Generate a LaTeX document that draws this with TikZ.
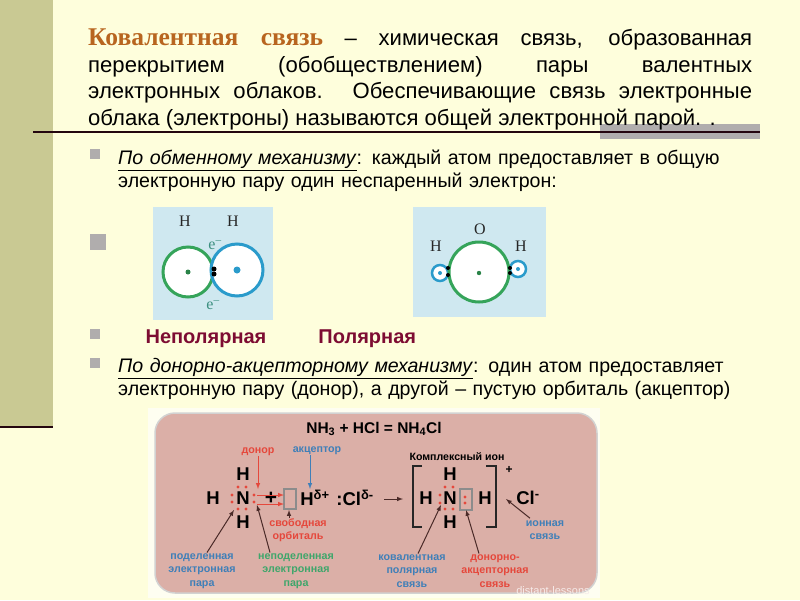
\documentclass[tikz,border=0pt]{standalone}
\usepackage{fontspec}
\setmainfont{Liberation Sans}
\newfontfamily\headfont{Liberation Serif}
\usetikzlibrary{positioning}

\definecolor{pagebg}{HTML}{FEFEDC}
\definecolor{bandcol}{HTML}{C9C993}
\definecolor{rulecol}{HTML}{24060F}
\definecolor{bulletcol}{HTML}{B0ADAD}
\definecolor{headcol}{HTML}{B8651F}
\definecolor{wine}{HTML}{7D0C32}
\definecolor{panelcol}{HTML}{CFE8F0}
\definecolor{greencirc}{HTML}{35A45A}
\definecolor{bluecirc}{HTML}{2A9BCB}
\definecolor{teal}{HTML}{3C8F80}
\definecolor{boxcol}{HTML}{DBAFA7}
\definecolor{lblred}{HTML}{E5483C}
\definecolor{lblblue}{HTML}{3F7FB8}
\definecolor{lblgreen}{HTML}{3FA66B}
\definecolor{arrowcol}{HTML}{4A2A28}

\tikzset{
  body/.style={anchor=north west, inner sep=0pt, text width=660pt, align=left,
    font=\fontsize{19.6}{23.4}\selectfont},
  bullet/.style={fill=bulletcol, draw=none, minimum size=#1, inner sep=0pt},
  kind/.style={font=\fontsize{20}{22}\selectfont\bfseries, text=wine},
  atomname/.style={font=\headfont\fontsize{16}{18}\selectfont, text=black!85},
  electron/.style={font=\headfont\fontsize{16}{18}\selectfont, text=teal},
  atom/.style={font=\fontsize{18.5}{20}\selectfont\bfseries, inner sep=0pt},
  small/.style={font=\fontsize{10.7}{13.3}\selectfont\bfseries, align=center, inner sep=0pt},
  ptr/.style={-latex, arrowcol, line width=1pt},
  redptr/.style={-latex, lblred, line width=1pt},
  orb/.style={draw=black!45, line width=1.3pt, fill=boxcol},
  bracket/.style={line width=1.4pt, black!85},
  redpair/.style={circle, fill=lblred, inner sep=0pt, minimum size=3.2pt},
  blackpair/.style={circle, fill=black, inner sep=0pt, minimum size=5pt}
}

\begin{document}
\begin{tikzpicture}[x=1pt, y=-1pt]
  \useasboundingbox (0,0) rectangle (800,600);
  \fill[pagebg] (0,0) rectangle (800,600);

  % left band and rules
  \fill[bandcol] (0,0) rectangle (53,426);
  \draw[rulecol, line width=2.5pt] (0,427) -- (53,427);
  \fill[bulletcol] (600,124) rectangle (760,139);
  \draw[rulecol, line width=2pt] (33,132) -- (760,132);

  % heading
  \node[anchor=north west, inner sep=0pt, text width=664pt, align=justify,
    font=\fontsize{22.1}{26.4}\selectfont] (head) at (88,29)
    {{\headfont\fontsize{25.5}{26.4}\selectfont\bfseries\color{headcol}Ковалентная связь} – химическая связь, образованная\linebreak
     перекрытием (обобществлением) пары валентных\linebreak
     электронных облаков. Обеспечивающие связь электронные\linebreak
     облака (электроны) называются общей электронной парой. .};

  % bullets and text
  \node[bullet=10pt] (b1) at (95,154) {};
  \node[bullet=16pt] (b2) at (98,242) {};
  \node[bullet=10pt] (b3) at (95,334) {};
  \node[bullet=10pt] (b4) at (95,363) {};

  \node[body] (exch) at (118,149.5)
    {\underline{\textit{По обменному механизму}}: каждый атом предоставляет в общую\\
     электронную пару один неспаренный электрон:};
  \node[body] (donor) at (118,358)
    {\underline{\textit{По донорно-акцепторному механизму}}: один атом предоставляет\\
     электронную пару (донор), а другой – пустую орбиталь (акцептор)};

  \node[kind] (nonpol) at (206,339) {Неполярная};
  \node[kind, right=45pt of nonpol] (pol) {Полярная};

  % H2 panel
  \fill[panelcol] (153,207) rectangle (273,320);
  \node[atomname] (h1) at (185,221) {H};
  \node[atomname] (h2) at (233,221) {H};
  \node[electron] (e1) at (215,245) {e\textsuperscript{–}};
  \node[electron] (e2) at (213,305) {e\textsuperscript{–}};
  \draw[greencirc, line width=3pt, fill=white] (188,272) circle (25);
  \draw[bluecirc, line width=3pt, fill=white] (237,270) circle (26);
  \fill[greencirc!80!black] (188,272) circle (2.5);
  \fill[bluecirc] (237,270) circle (3.5);
  \node[blackpair] (p1) at (214,269) {};
  \node[blackpair] (p2) at (214,274) {};

  % H2O panel
  \fill[panelcol] (413,207) rectangle (546,317);
  \node[atomname] (ox) at (480,229) {O};
  \node[atomname] (h3) at (436,246) {H};
  \node[atomname] (h4) at (521,246) {H};
  \draw[bluecirc, line width=2.5pt, fill=white] (440,273) circle (8);
  \draw[bluecirc, line width=2.5pt, fill=white] (518,269) circle (8);
  \draw[greencirc, line width=3pt, fill=white] (479,272) circle (30);
  \fill[greencirc!80!black] (479,273) circle (2.2);
  \fill[bluecirc] (440,273) circle (2);
  \fill[bluecirc] (518,269) circle (2);
  \node[blackpair, minimum size=4pt] (p3) at (448,268) {};
  \node[blackpair, minimum size=4pt] (p4) at (448,275) {};
  \node[blackpair, minimum size=4pt] (p5) at (510,268) {};
  \node[blackpair, minimum size=4pt] (p6) at (510,273) {};

  % reaction box
  \fill[white!60!pagebg] (148,408) rectangle (600,598);
  \draw[fill=boxcol, draw=white!65!gray, line width=1.5pt, rounded corners=20pt]
    (155,413) rectangle (597,593);

  \node[font=\fontsize{15.5}{17}\selectfont\bfseries] (eq) at (374,429)
    {NH\textsubscript{3} + HCl = NH\textsubscript{4}Cl};

  % left formula
  \node[atom] (nl) at (243,498) {N};
  \node[atom, above=11pt of nl] (hlt) {H};
  \node[atom, below=11pt of nl] (hlb) {H};
  \node[atom] (hll) at (213,498) {H};
  \node[atom, font=\fontsize{21}{22}\selectfont\bfseries] (plus) at (271,498) {+};
  \draw[orb] (284,489) rectangle (296,509);
  \coordinate (orbl1) at (284,495);
  \coordinate (orbl2) at (284,504);
  \node[atom] (hd) at (315,498) {H\textsuperscript{δ+}};
  \node[atom] (cld) at (355,498) {:Cl\textsuperscript{δ-}};
  \foreach \i/\px/\py in {1/232/495,2/232/502,3/254/495,4/254/502,5/238/487,6/246/487,7/238/509,8/246/509}
    \node[redpair] (dl\i) at (\px,\py) {};

  % left labels
  \node[small, text=lblred] (lbldon) at (258,452) {донор};
  \node[small, text=lblblue] (lblacc) at (317,451) {акцептор};
  \node[small, text=lblred] (lblfree) at (298,530) {свободная\\орбиталь};
  \node[small, text=lblblue] (lblshared) at (202,571) {поделенная\\электронная\\пара};
  \node[small, text=lblgreen] (lblunsh) at (296,571) {неподеленная\\электронная\\пара};

  \coordinate (pdon) at (258,489);
  \coordinate (pacc) at (310,489);
  \coordinate (pfree) at (289,510);
  \coordinate (pshared) at (234,510);
  \coordinate (punsh) at (257,505);
  \draw[redptr] (lbldon.south) -- (pdon);
  \draw[-latex, lblblue, line width=1pt] (lblacc.south -| pacc) -- (pacc);
  \draw[ptr] (lblfree.north -| pfree) -- (pfree);
  \draw[ptr] (lblshared.north) ++(5,-1) -- (pshared);
  \draw[ptr] (lblunsh.north) ++(-26,-1) -- (punsh);
  \draw[redptr] (dl3) ++(3,0) -- (orbl1);
  \draw[redptr] (dl4) ++(3,2) -- (orbl2);

  % reaction arrow
  \coordinate (rarrs) at (384,499);
  \coordinate (rarre) at (403,499);
  \draw[ptr] (rarrs) -- (rarre);

  % right formula
  \draw[bracket] (422,466) -- (413,466) -- (413,527) -- (422,527);
  \draw[bracket] (486,466) -- (496,466) -- (496,527) -- (486,527);
  \node[font=\fontsize{10.6}{12}\selectfont\bfseries] (ion) at (457,457) {Комплексный ион};
  \node[font=\fontsize{12}{12}\selectfont\bfseries] (ionplus) at (509,470) {+};
  \node[atom] (nr) at (450,498) {N};
  \node[atom, above=11pt of nr] (hrt) {H};
  \node[atom, below=11pt of nr] (hrb) {H};
  \node[atom] (hrl) at (426,498) {H};
  \node[atom] (hrr) at (485,498) {H};
  \draw[orb] (460,489) rectangle (472,510);
  \node[atom] (clm) at (528,498) {Cl\textsuperscript{-}};
  \foreach \i/\px/\py in {1/465/497,2/465/503,3/440/495,4/440/503,5/445/487,6/453/487,7/445/509,8/453/509}
    \node[redpair] (dr\i) at (\px,\py) {};

  % right labels
  \node[small, text=lblblue] (lblion) at (545,530) {ионная\\связь};
  \node[small, text=lblblue] (lblcov) at (412,571) {ковалентная\\полярная\\связь};
  \node[small, text=lblred] (lbldacc) at (495,571) {донорно-\\акцепторная\\связь};

  \coordinate (pion) at (506,499);
  \coordinate (pcov) at (441,505);
  \coordinate (pdacc) at (466,510);
  \draw[ptr] (lblion.north) ++(-15,-2) -- (pion);
  \draw[ptr] (lblcov.north) ++(6,-1) -- (pcov);
  \draw[ptr] (lbldacc.north) ++(-16,-1) -- (pdacc);

  \node[font=\fontsize{11}{12}\selectfont, text=white!75!boxcol] (mark) at (553,591) {distant-lessons};
\end{tikzpicture}
\end{document}
